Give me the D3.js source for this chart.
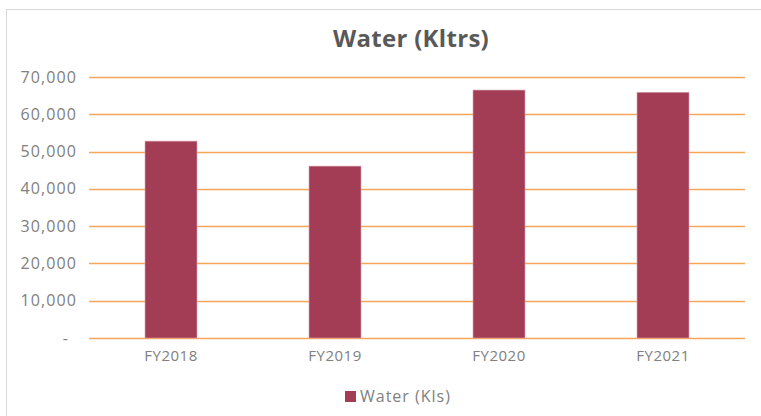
<!DOCTYPE html>
<html>
<head>
<meta charset="utf-8">
<script src="https://cdn.jsdelivr.net/npm/d3@7"></script>
<style>
  body { margin: 0; background: #fff; }
  svg { display: block; }
</style>
</head>
<body>
<svg id="chart" width="761" height="416"></svg>
<script>
// data
const categories = ["FY2018", "FY2019", "FY2020", "FY2021"];
const waterValues = [52800, 46100, 66500, 65900];
const yTicks = [0, 10000, 20000, 30000, 40000, 50000, 60000, 70000];
const seriesName = "Water (Kls)";
const chartTitle = "Water (Kltrs)";

const svg = d3.select("#chart");
const width = 761, height = 416;
const margins = { left: 89, right: 16, top: 77, bottom: 78 };
const w = width - margins.left - margins.right;
const h = height - margins.top - margins.bottom;

const font = "'Open Sans', sans-serif";
const barColor = "#A33D56";
const gridColor = "#F5A65B";
const textColor = "#808080";

// frame
svg.append("rect")
  .attr("x", 6.5).attr("y", 9.5)
  .attr("width", width).attr("height", height)
  .attr("fill", "#fff")
  .attr("stroke", "#D9D9D9");

// title
svg.append("text")
  .attr("x", 411).attr("y", 47)
  .attr("text-anchor", "middle")
  .attr("font-family", font)
  .attr("font-weight", "bold")
  .attr("font-size", 24)
  .attr("letter-spacing", 0.3)
  .attr("fill", "#595959")
  .text(chartTitle);

const g = svg.append("g")
  .attr("transform", "translate(" + margins.left + "," + margins.top + ")");

const xScale = d3.scaleBand()
  .domain(categories)
  .range([0, w])
  .paddingInner(0.683)
  .paddingOuter(0.3415);

const yScale = d3.scaleLinear()
  .domain([0, 70000])
  .range([h, 0]);

// gridlines
g.selectAll(".grid")
  .data(yTicks)
  .join("line")
  .attr("class", "grid")
  .attr("x1", 0).attr("x2", w)
  .attr("y1", d => Math.round(yScale(d)) + 0.5)
  .attr("y2", d => Math.round(yScale(d)) + 0.5)
  .attr("stroke", gridColor)
  .attr("stroke-width", 1.5);

// y labels
const fmt = d3.format(",");
const yAxis = g.append("g")
  .call(d3.axisLeft(yScale).tickValues(yTicks).tickSize(0).tickPadding(12)
    .tickFormat(d => d === 0 ? "-" : fmt(d)));
yAxis.select(".domain").remove();
yAxis.selectAll("text")
  .attr("font-family", font)
  .attr("font-size", 16)
  .attr("letter-spacing", 1.1)
  .attr("fill", textColor);
yAxis.selectAll(".tick").filter(d => d === 0).select("text").attr("dx", -8);

// bars
g.selectAll(".bar")
  .data(waterValues)
  .join("rect")
  .attr("class", "bar")
  .attr("x", (d, i) => xScale(categories[i]))
  .attr("y", d => yScale(d))
  .attr("width", xScale.bandwidth())
  .attr("height", d => h - yScale(d))
  .attr("fill", barColor)
  .attr("stroke", "#D9A0AE")
  .attr("stroke-width", 0.6);

// x labels
const xAxis = g.append("g")
  .attr("transform", "translate(0," + h + ")")
  .call(d3.axisBottom(xScale).tickSize(0).tickPadding(12));
xAxis.select(".domain").remove();
xAxis.selectAll("text")
  .attr("font-family", font)
  .attr("font-size", 15)
  .attr("letter-spacing", 0.5)
  .attr("fill", textColor);

// legend
const legend = svg.append("g").attr("transform", "translate(345,391)");
legend.append("rect")
  .attr("width", 11).attr("height", 11)
  .attr("fill", barColor);
legend.append("text")
  .attr("x", 15).attr("y", 11)
  .attr("font-family", font)
  .attr("font-size", 16)
  .attr("letter-spacing", 1)
  .attr("fill", textColor)
  .text(seriesName);
</script>
</body>
</html>
